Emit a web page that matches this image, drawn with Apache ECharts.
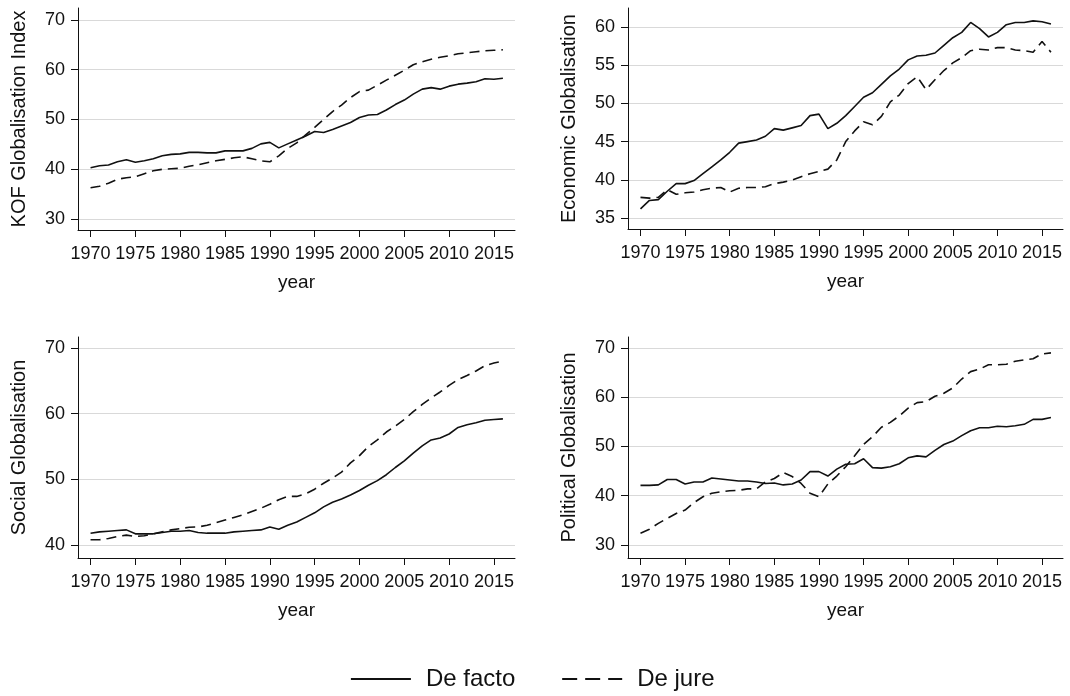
<!DOCTYPE html>
<html>
<head>
<meta charset="utf-8">
<script src="https://cdn.jsdelivr.net/npm/echarts@6/dist/echarts.min.js"></script>
<style>
html,body{margin:0;padding:0;background:#fff;}
#c{width:1070px;height:696px;}
</style>
</head>
<body>
<div id="c"></div>
<script>
const years = [];
for (let y = 1970; y <= 2016; y++) years.push(y);
const xTicks = [1970,1975,1980,1985,1990,1995,2000,2005,2010,2015];

const kofTicks = [30,40,50,60,70];
const econTicks = [35,40,45,50,55,60];
const socTicks = [40,50,60,70];
const polTicks = [30,40,50,60,70];

const kofFacto = [40.3,40.7,40.85,41.5,41.9,41.4,41.7,42.1,42.7,43.0,43.1,43.4,43.4,43.3,43.3,43.7,43.7,43.7,44.2,45.1,45.4,44.3,45.1,45.9,46.7,47.6,47.4,48.0,48.7,49.4,50.4,50.9,51.0,51.9,53.0,53.9,55.1,56.1,56.4,56.1,56.7,57.1,57.3,57.6,58.2,58.1,58.3];
const kofJure = [36.3,36.6,37.2,38.0,38.3,38.5,39.1,39.7,40.0,40.1,40.2,40.6,40.9,41.3,41.7,42.0,42.3,42.5,42.1,41.7,41.5,42.7,44.2,45.3,46.9,48.4,50.0,51.6,52.9,54.4,55.6,55.9,56.9,57.9,58.9,59.9,61.0,61.6,62.1,62.5,62.8,63.2,63.4,63.6,63.8,63.9,64.0];

const econFacto = [36.2,37.3,37.4,38.5,39.5,39.5,39.9,40.8,41.7,42.6,43.6,44.8,45.0,45.2,45.7,46.7,46.5,46.8,47.1,48.4,48.6,46.7,47.4,48.4,49.6,50.8,51.4,52.5,53.6,54.5,55.7,56.2,56.3,56.6,57.6,58.6,59.3,60.6,59.8,58.7,59.3,60.3,60.6,60.6,60.8,60.7,60.4];
const econJure = [37.7,37.6,37.7,38.7,38.1,38.3,38.4,38.7,38.9,39.0,38.4,38.9,39.0,39.0,39.1,39.5,39.7,39.95,40.4,40.8,41.1,41.4,42.6,45.0,46.4,47.6,47.2,48.3,50.2,51.1,52.6,53.5,51.8,53.1,54.3,55.3,56.0,56.9,57.1,57.0,57.3,57.3,57.0,56.9,56.7,58.1,56.7];

const socFacto = [41.8,42.0,42.1,42.2,42.3,41.7,41.7,41.7,41.9,42.1,42.1,42.2,41.9,41.8,41.8,41.8,42.0,42.1,42.2,42.3,42.75,42.4,43.0,43.5,44.2,44.9,45.8,46.5,47.0,47.6,48.3,49.1,49.8,50.7,51.8,52.8,54.0,55.1,56.0,56.3,56.9,57.9,58.3,58.6,59.0,59.1,59.2];
const socJure = [40.8,40.8,41.0,41.3,41.5,41.3,41.4,41.7,42.0,42.3,42.5,42.7,42.75,43.0,43.4,43.8,44.2,44.6,45.1,45.6,46.2,46.9,47.4,47.4,47.8,48.5,49.4,50.2,51.1,52.5,53.6,55.0,56.0,57.2,58.1,59.1,60.3,61.4,62.4,63.3,64.3,65.2,65.8,66.5,67.3,67.7,68.0];

const polFacto = [42.1,42.1,42.2,43.3,43.3,42.4,42.8,42.8,43.6,43.4,43.2,43.0,43.0,42.8,42.5,42.6,42.2,42.4,43.2,44.9,44.9,44.0,45.4,46.4,46.5,47.5,45.7,45.6,45.9,46.5,47.7,48.1,47.9,49.2,50.4,51.1,52.2,53.2,53.8,53.8,54.1,54.0,54.2,54.5,55.5,55.5,55.9];
const polJure = [32.4,33.2,34.4,35.4,36.4,37.1,38.6,39.8,40.5,40.8,41.0,41.1,41.4,41.4,42.8,43.5,44.7,43.9,42.5,40.5,39.8,42.4,44.0,45.9,48.1,50.4,52.0,53.9,54.9,56.2,57.8,58.9,59.1,60.2,60.8,61.9,63.7,65.2,65.7,66.6,66.6,66.7,67.3,67.6,67.8,68.8,69.0];

const panels = [
  {title:'KOF Globalisation Index', ticks:kofTicks, facto:kofFacto, jure:kofJure, min:27.8, max:72.4, grid:{left:78, top:8, width:437, height:222}},
  {title:'Economic Globalisation', ticks:econTicks, facto:econFacto, jure:econJure, min:33.56, max:62.49, grid:{left:628, top:8, width:435, height:221}},
  {title:'Social Globalisation', ticks:socTicks, facto:socFacto, jure:socJure, min:38.02, max:71.67, grid:{left:78, top:337, width:437, height:221}},
  {title:'Political Globalisation', ticks:polTicks, facto:polFacto, jure:polJure, min:27.36, max:72.23, grid:{left:628, top:337, width:435, height:221}}
];

const FONT = 'Liberation Sans, Arial, sans-serif';
const INK = '#111';
const grids = [], xAxes = [], yAxes = [], series = [];
panels.forEach((p, i) => {
  grids.push(Object.assign({containLabel:false}, p.grid));
  xAxes.push({
    type:'value', gridIndex:i, min:1968.6, max:2017.35,
    name:'year', nameLocation:'middle', nameGap:43,
    nameTextStyle:{fontFamily:FONT, fontSize:19, color:INK},
    axisLine:{show:true, onZero:false, lineStyle:{color:INK, width:1}},
    axisTick:{show:true, length:7, customValues:xTicks, lineStyle:{color:INK}},
    axisLabel:{customValues:xTicks, formatter:v => String(v), fontFamily:FONT, fontSize:18, color:INK, margin:15},
    splitLine:{show:false}
  });
  yAxes.push({
    type:'value', gridIndex:i, min:p.min, max:p.max,
    name:p.title, nameLocation:'middle', nameGap:49, nameRotate:90,
    nameTextStyle:{fontFamily:FONT, fontSize:20, color:INK},
    axisLine:{show:true, onZero:false, lineStyle:{color:INK, width:1}},
    axisTick:{show:true, length:7, customValues:p.ticks, lineStyle:{color:INK}},
    axisLabel:{customValues:p.ticks, formatter:v => String(v), fontFamily:FONT, fontSize:18, color:INK, margin:13},
    splitLine:{show:true, lineStyle:{color:'#d9d9d9', width:1}}
  });
  series.push({
    name:'De facto', type:'line', xAxisIndex:i, yAxisIndex:i,
    data:years.map((y, k) => [y, p.facto[k]]),
    symbol:'none', lineStyle:{color:INK, width:1.6, type:'solid'}, itemStyle:{color:INK}
  });
  series.push({
    name:'De jure', type:'line', xAxisIndex:i, yAxisIndex:i,
    data:years.map((y, k) => [y, p.jure[k]]),
    symbol:'none', lineStyle:{color:INK, width:1.6, type:[10,6]}, itemStyle:{color:INK}
  });
});

const chart = echarts.init(document.getElementById('c'), null, {renderer:'canvas'});
chart.setOption({
  backgroundColor:'#fff',
  animation:false,
  grid:grids, xAxis:xAxes, yAxis:yAxes, series:series,
  legend:{
    show:true,
    left:345, top:662, itemWidth:60, itemHeight:14, itemGap:46,
    selectedMode:false,
    itemStyle:{opacity:0},
    textStyle:{fontFamily:FONT, fontSize:24, color:INK, padding:[0,0,0,10]},
    data:[
      {name:'De facto', lineStyle:{width:1.8}},
      {name:'De jure', lineStyle:{width:1.8, type:[15,8]}}
    ]
  }
});
</script>
</body>
</html>
